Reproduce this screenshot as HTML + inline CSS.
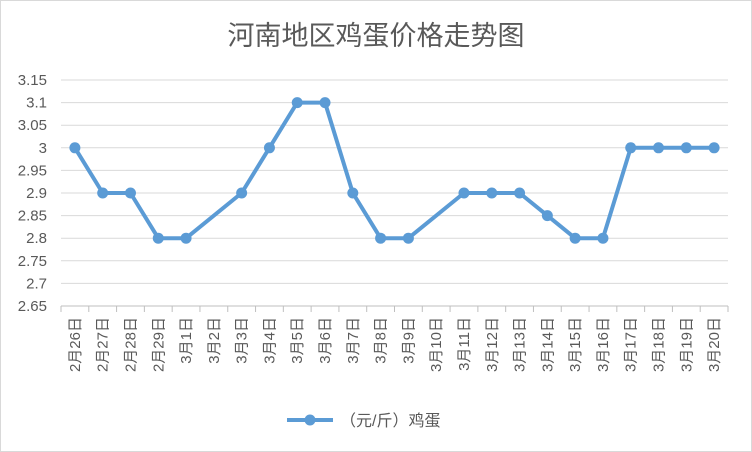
<!DOCTYPE html>
<html><head><meta charset="utf-8"><style>
body{margin:0;background:#fff}
svg{display:block;font-family:"Liberation Sans","Noto Sans CJK SC",sans-serif}
</style></head><body>
<svg width="752" height="452">
<rect x="0.5" y="0.5" width="751" height="451" fill="#fff" stroke="#d9d9d9"/>
<text x="376" y="45" text-anchor="middle" font-size="27" fill="#595959">河南地区鸡蛋价格走势图</text>
<g id="grid"></g><g id="yt"></g><g id="xt"></g><g id="series"></g>
<g>
<line x1="287" y1="420" x2="333" y2="420" stroke="#5b9bd5" stroke-width="4"/>
<circle cx="310" cy="420" r="5.5" fill="#5b9bd5"/>
<text x="340" y="426" font-size="16" fill="#595959">（元/斤）鸡蛋</text>
</g>
</svg>
<script>
const categories=["2月26日","2月27日","2月28日","2月29日","3月1日","3月2日","3月3日","3月4日","3月5日","3月6日","3月7日","3月8日","3月9日","3月10日","3月11日","3月12日","3月13日","3月14日","3月15日","3月16日","3月17日","3月18日","3月19日","3月20日"];
const values=[3,2.9,2.9,2.8,2.8,null,2.9,3,3.1,3.1,2.9,2.8,2.8,null,2.9,2.9,2.9,2.85,2.8,2.8,3,3,3,3];
const yTicks=["2.65","2.7","2.75","2.8","2.85","2.9","2.95","3","3.05","3.1","3.15"];
const NS="http://www.w3.org/2000/svg";
const x0=61,x1=728,y0=306,y1=80,ymin=2.65,ymax=3.15;
const bw=(x1-x0)/categories.length;
const X=i=>x0+bw*(i+0.5);
const Y=v=>y0-(v-ymin)/(ymax-ymin)*(y0-y1);
function mk(t,a,p){const e=document.createElementNS(NS,t);for(const k in a)e.setAttribute(k,a[k]);p.appendChild(e);return e;}
const grid=document.getElementById('grid'),yt=document.getElementById('yt'),xt=document.getElementById('xt'),ser=document.getElementById('series');
yTicks.forEach(t=>{const y=Y(parseFloat(t));
const l=mk('line',{x1:x0,x2:x1,y1:y,y2:y,stroke:parseFloat(t)===ymin?'#bfbfbf':'#d9d9d9'},grid);


const tx=mk('text',{x:47,y:y+5,'text-anchor':'end','font-size':15,fill:'#595959'},yt);tx.textContent=t;

});
for(let i=0;i<=categories.length;i++){const x=x0+bw*i;mk('line',{x1:x,x2:x,y1:y0,y2:y0+6,stroke:'#bfbfbf'},grid);}
categories.forEach((c,i)=>{const x=X(i)+5;
const t=mk('text',{x:0,y:0,transform:`translate(${x},317) rotate(-90)`,'text-anchor':'end','font-size':15,fill:'#595959'},xt);t.textContent=c;

});
const pts=[];values.forEach((v,i)=>{if(v!=null)pts.push([X(i),Y(v)]);});
const pl=mk('polyline',{points:pts.map(p=>p.join(',')).join(' '),fill:'none',stroke:'#5b9bd5','stroke-width':4,'stroke-linejoin':'round'},ser);


pts.forEach(p=>{const c=mk('circle',{cx:p[0],cy:p[1],r:5.5,fill:'#5b9bd5'},ser);

});
</script>
</body></html>
